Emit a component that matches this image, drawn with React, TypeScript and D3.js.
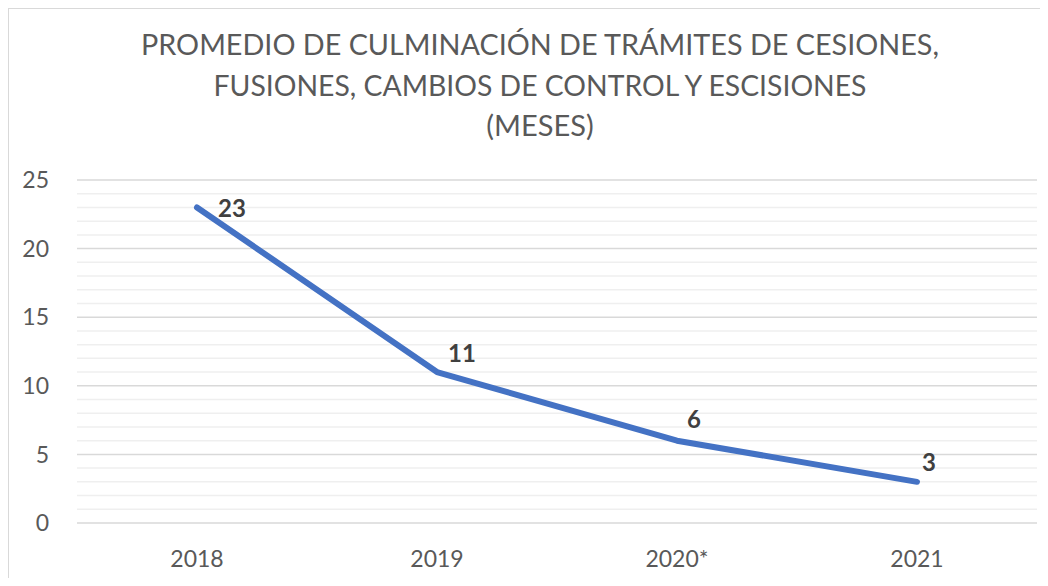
import React from 'react';
import * as d3 from 'd3';

const titleLines = [
    'PROMEDIO DE CULMINACIÓN DE TRÁMITES DE CESIONES,',
    'FUSIONES, CAMBIOS DE CONTROL Y ESCISIONES',
    '(MESES)',
];
const years = ['2018', '2019', '2020*', '2021'];
const months = [23, 11, 6, 3];
const yTicks = [0, 5, 10, 15, 20, 25];
const yMinorTicks = d3.range(0, 26, 1);

// manual nudges for the value labels (dx, dy from the point)
const labelOffsets = [
    [35, 10],
    [25, -10],
    [17, -13],
    [12, -11],
];
// widths the title lines take in the original
const titleWidths = [798, 653, null];

const font = 'Lato, "Open Sans", sans-serif';
const textColor = '#595959';

export default function App() {
    const width = 1040;
    const height = 570;
    const left = 69;
    const right = 1029;
    const top = 172;
    const bottom = 515;

    const x = d3.scaleBand().domain(years).range([left, right]);
    const y = d3.scaleLinear().domain([0, 25]).range([bottom, top]);
    const cx = d => x(d) + x.bandwidth() / 2;

    const line = d3
        .line()
        .x((d, i) => cx(years[i]))
        .y(d => y(d));

    return (
        <svg width={width} height={height} style={{ display: 'block' }}>
            <rect x={0.5} y={0.5} width={1200} height={800} fill="#fff" stroke="#d9d9d9" />
            <g fontFamily={font} fill={textColor} textAnchor="middle" fontSize={29}>
                {titleLines.map((t, i) => (
                    <text
                        key={i}
                        x={532}
                        y={47 + i * 40.5}
                        textLength={titleWidths[i] || undefined}
                        lengthAdjust="spacingAndGlyphs"
                    >
                        {t}
                    </text>
                ))}
            </g>
            <g>
                {yMinorTicks.filter(t => t % 5 !== 0).map(t => (
                    <line key={t} x1={left} x2={right} y1={y(t)} y2={y(t)} stroke="#efefef" strokeWidth={1.5} />
                ))}
                {yTicks.map(t => (
                    <line key={t} x1={left} x2={right} y1={y(t)} y2={y(t)} stroke="#d9d9d9" strokeWidth={1.5} />
                ))}
            </g>
            <g fontFamily={font} fill={textColor} fontSize={23}>
                {yTicks.map(t => (
                    <text key={t} x={41} y={y(t)} dy="0.36em" textAnchor="end">
                        {t}
                    </text>
                ))}
                {years.map(d => (
                    <text key={d} x={cx(d)} y={559} textAnchor="middle">
                        {d}
                    </text>
                ))}
            </g>
            <path
                d={line(months)}
                fill="none"
                stroke="#4472C4"
                strokeWidth={6}
                strokeLinecap="round"
                strokeLinejoin="round"
            />
            <g fontFamily={font} fontWeight="bold" fontSize={24} fill="#404040" textAnchor="middle">
                {months.map((m, i) => (
                    <text key={i} x={cx(years[i]) + labelOffsets[i][0]} y={y(m) + labelOffsets[i][1]}>
                        {m}
                    </text>
                ))}
            </g>
        </svg>
    );
}
